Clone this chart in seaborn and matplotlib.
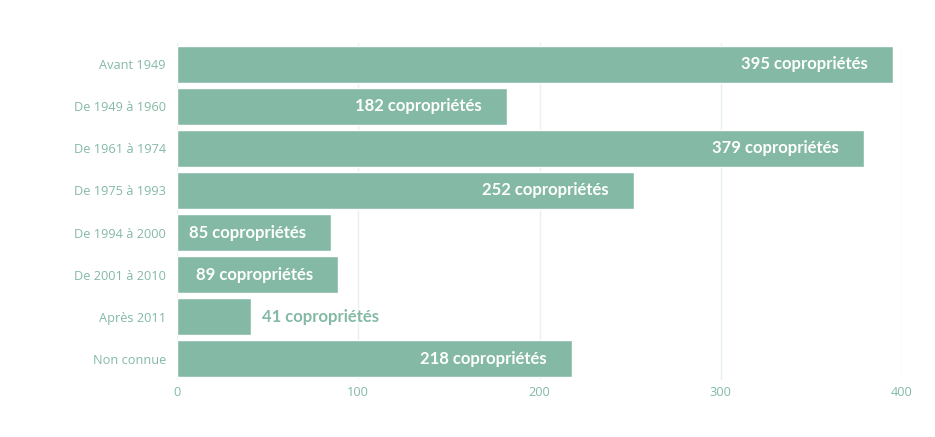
import matplotlib
matplotlib.use("Agg")
import matplotlib.pyplot as plt
import seaborn as sns
import pandas as pd

# Period of construction vs number of co-ownerships
categories = ["Avant 1949", "De 1949 à 1960", "De 1961 à 1974", "De 1975 à 1993",
              "De 1994 à 2000", "De 2001 à 2010", "Après 2011", "Non connue"]
values = [395, 182, 379, 252, 85, 89, 41, 218]
x_ticks = [0, 100, 200, 300, 400]

green = "#84BAA5"
grid_color = "#E8F1ED"

df = pd.DataFrame({"periode": categories, "nb": values})

sns.set_theme(style="white")
plt.rcParams["font.family"] = ["Open Sans", "DejaVu Sans"]

fig = plt.figure(figsize=(9.35, 4.37), dpi=100)
ax = fig.add_axes([177 / 935, 1 - 380 / 437, 725 / 935, 337 / 437])

sns.barplot(data=df, x="nb", y="periode", orient="h", color=green,
            saturation=1, width=0.88, ax=ax, zorder=2)

ax.set_xlim(0, 400)
ax.set_xticks(x_ticks)
ax.set_xlabel("")
ax.set_ylabel("")
ax.grid(axis="x", color=grid_color, linewidth=1, zorder=0)
ax.set_axisbelow(True)
for s in ax.spines.values():
    s.set_visible(False)
ax.tick_params(axis="both", length=0, colors=green, labelsize=9.2)
ax.tick_params(axis="y", pad=8)
ax.tick_params(axis="x", pad=4)

label_font = dict(fontsize=12, fontweight="bold", family=["Lato", "DejaVu Sans"])

fig.canvas.draw()
renderer = fig.canvas.get_renderer()
px_per_unit = ax.get_window_extent().width / 400
for i, v in enumerate(values):
    label = f"{v} copropriétés"
    t = ax.text(0, i, label, **label_font)
    w = t.get_window_extent(renderer).width
    t.remove()
    if v * px_per_unit > w + 28:
        ax.annotate(label, xy=(v, i), xytext=(-18, 0), textcoords="offset points",
                    ha="right", va="center", color="white", zorder=3, **label_font)
    else:
        ax.annotate(label, xy=(v, i), xytext=(8, 0), textcoords="offset points",
                    ha="left", va="center", color=green, zorder=3, **label_font)

fig.savefig("out.png", dpi=100)
